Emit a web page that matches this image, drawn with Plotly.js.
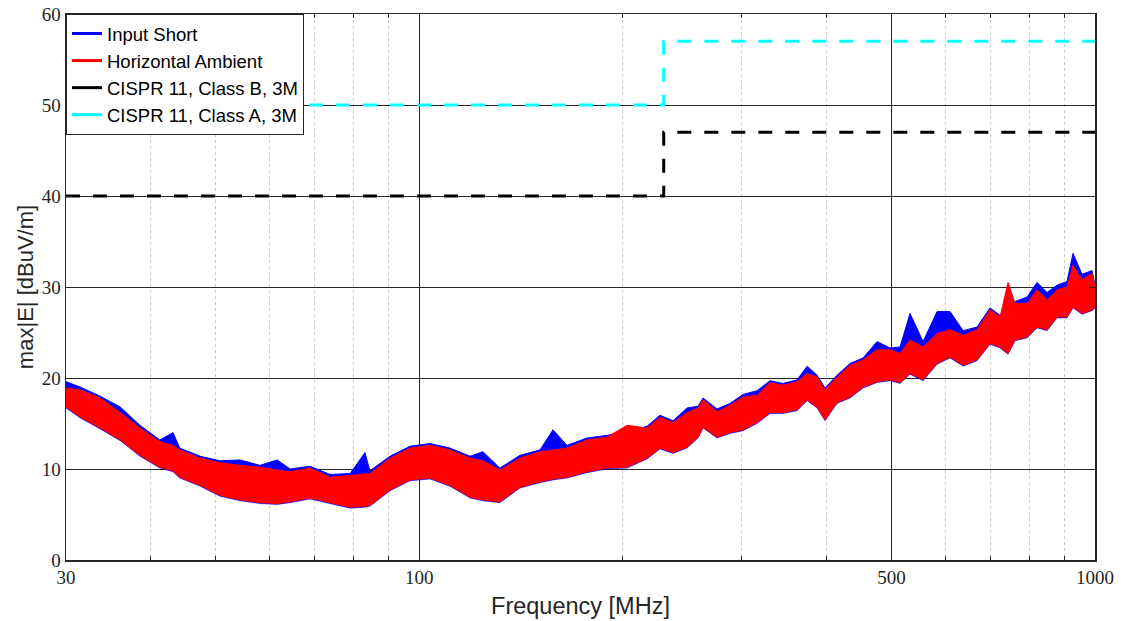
<!DOCTYPE html>
<html>
<head>
<meta charset="utf-8">
<script src="https://cdn.plot.ly/plotly-3.0.1.min.js"></script>
<style>html,body{margin:0;padding:0;background:#fff;}#chart{width:1127px;height:621px;}</style>
</head>
<body>
<div id="chart"></div>
<script>
// Frequencies (MHz) at which the envelopes were read
const freq = [30,31.5,33.7,36.1,38.6,41.3,43.2,44.2,47.4,50.7,54.3,58.1,61.6,64.4,68.9,73.8,79.0,83.1,84.5,90.5,96.9,103.7,111.0,118.9,124.2,131.6,140.9,150.9,157.7,165.4,177.1,189.6,203.0,217.3,227.1,237.4,249.0,258.5,263.0,275.8,288.3,301.4,316.1,330.4,345.3,362.3,375.0,387.9,398.5,415.1,434.1,453.7,475.8,497.4,514.6,532.4,556.6,583.8,610.2,638.0,669.0,699.3,723.5,743.6,761.5,793.3,820.8,849.3,878.8,909.0,927.8,956.8,990,1000];
// Input Short: upper / lower envelope (dBuV/m)
const inputShortHi = [19.6,19.0,18.0,16.8,14.8,13.2,14.0,12.3,11.4,10.9,11.0,10.4,11.0,10.0,10.3,9.4,9.5,11.8,9.8,11.4,12.5,12.8,12.3,11.4,11.9,10.1,11.5,12.1,14.3,12.6,13.4,13.7,14.0,14.7,15.9,15.3,16.7,16.9,17.8,16.6,17.2,18.2,18.6,19.7,19.4,19.8,21.3,20.3,18.9,20.3,21.6,22.2,24.0,23.3,23.4,27.1,24.0,27.3,27.3,25.2,25.6,27.7,26.9,27.6,28.4,28.9,30.5,29.4,30.2,30.6,33.7,31.4,31.8,30.2];
const inputShortLo = [16.7,15.6,14.4,13.1,11.4,10.1,9.7,9.0,8.1,7.0,6.5,6.2,6.1,6.3,6.7,6.2,5.7,5.8,5.9,7.6,8.7,8.9,8.1,6.8,6.5,6.3,7.9,8.5,8.8,9.0,9.6,10.0,10.1,11.1,12.2,11.7,12.3,13.4,14.5,13.4,13.9,14.2,15.0,16.1,16.1,16.4,17.5,16.7,15.3,17.2,17.8,18.9,19.5,19.7,19.4,20.4,19.7,21.5,22.2,21.3,21.9,23.7,23.3,22.6,24.1,24.4,25.5,25.2,26.6,26.6,27.7,27.0,27.4,27.7];
// Horizontal Ambient: upper / lower envelope (dBuV/m)
const ambientHi = [18.9,18.7,17.8,16.2,14.5,13.0,12.6,12.1,11.2,10.7,10.4,10.2,9.9,9.7,10.1,9.1,9.3,9.4,9.5,11.2,12.3,12.6,12.1,11.2,10.9,9.9,11.2,11.9,12.1,12.3,13.2,13.5,14.8,14.5,15.7,15.1,16.2,16.7,17.6,16.3,17.0,17.9,18.1,19.5,19.2,19.6,20.5,20.1,18.7,20.1,21.4,22.0,23.1,23.1,22.7,24.2,23.4,24.9,25.3,24.7,25.3,27.5,26.7,30.5,28.2,28.2,29.7,28.6,29.7,30.0,32.4,30.8,31.5,30.0];
const ambientLo = [16.8,15.7,14.5,13.2,11.5,10.2,9.8,9.1,8.2,7.1,6.6,6.3,6.2,6.4,6.8,6.3,5.8,5.9,6.0,7.7,8.8,9.0,8.2,6.9,6.6,6.4,8.0,8.6,8.9,9.1,9.7,10.1,10.2,11.2,12.3,11.8,12.4,13.5,14.6,13.5,14.0,14.3,15.1,16.2,16.2,16.5,17.6,16.8,15.4,17.3,17.9,19.0,19.6,19.8,19.5,20.5,19.8,21.6,22.3,21.4,22.0,23.8,23.4,22.7,24.2,24.5,25.6,25.3,26.7,26.7,27.8,27.1,27.5,27.8];
// CISPR 11 limits (3 m)
const limitFreq = [30,230,230,1000];
const classB = [40,40,47,47];
const classA = [50,50,57,57];
// Axis ticks
const xTickVals = [30,100,500,1000];
const xTickText = ['30','100','500','1000'];
const xMinorVals = [40,50,60,70,80,90,200,300,400,600,700,800,900];
const yTickVals = [0,10,20,30,40,50,60];

const BLUE = '#0000ff', RED = '#ff0000', BLACK = '#000000', CYAN = '#00ffff';
const traces = [
  {x:[null], y:[null], mode:'lines', name:'Input Short', line:{color:BLUE, width:3}},
  {x:[null], y:[null], mode:'lines', name:'Horizontal Ambient', line:{color:RED, width:3}},
  {x:[null], y:[null], mode:'lines', name:'CISPR 11, Class B, 3M', line:{color:BLACK, width:3}},
  {x:[null], y:[null], mode:'lines', name:'CISPR 11, Class A, 3M', line:{color:CYAN, width:3}},
  {x:limitFreq, y:classB, mode:'lines', showlegend:false, line:{color:BLACK, width:3, dash:'14px,13px'}},
  {x:limitFreq, y:classA, mode:'lines', showlegend:false, line:{color:CYAN, width:3, dash:'14px,13px'}},
  {x:freq, y:inputShortHi, mode:'lines', showlegend:false, hoverinfo:'skip', line:{color:BLUE, width:1}},
  {x:freq, y:inputShortLo, mode:'lines', showlegend:false, hoverinfo:'skip', fill:'tonexty', fillcolor:BLUE, line:{color:BLUE, width:0.5}},
  {x:freq, y:ambientHi, mode:'lines', showlegend:false, hoverinfo:'skip', line:{color:RED, width:1}},
  {x:freq, y:ambientLo, mode:'lines', showlegend:false, hoverinfo:'skip', fill:'tonexty', fillcolor:RED, line:{color:RED, width:1}}
];

const tickFont = {family:'Liberation Serif, Times New Roman, serif', size:19, color:'#262626'};
const sans = 'Liberation Sans, Arial, sans-serif';

const layout = {
  width:1127, height:621,
  margin:{l:66, r:32, t:14, b:61},
  paper_bgcolor:'#ffffff', plot_bgcolor:'#ffffff',
  showlegend:true,
  legend:{x:0, y:1, xanchor:'left', yanchor:'top', bgcolor:'#ffffff', bordercolor:'#262626', borderwidth:1,
          traceorder:'normal', font:{family:sans, size:18.5, color:'#000'}, tracegroupgap:0, itemwidth:30},
  xaxis:{
    type:'log', range:[Math.log10(30), 3],
    tickmode:'array', tickvals:xTickVals, ticktext:xTickText,
    ticks:'inside', ticklen:6, tickcolor:'#262626', tickwidth:1,
    showgrid:true, gridcolor:'#262626', gridwidth:1,
    showline:true, linecolor:'#262626', linewidth:1.5, mirror:'ticks',
    zeroline:false, tickfont:tickFont,
    minor:{tickvals:xMinorVals, ticks:'inside', ticklen:4, tickcolor:'#262626', showgrid:true, gridcolor:'#cccccc', griddash:'dot', gridwidth:1},
    title:{text:'Frequency [MHz]', font:{family:sans, size:23.5, color:'#262626'}, standoff:10}
  },
  yaxis:{
    range:[0,60], tickmode:'array', tickvals:yTickVals,
    ticks:'inside', ticklen:6, tickcolor:'#262626', tickwidth:1,
    showgrid:true, gridcolor:'#262626', gridwidth:1,
    showline:true, linecolor:'#262626', linewidth:1.5, mirror:'ticks',
    zeroline:false, tickfont:tickFont,
    title:{text:'max|E| [dBuV/m]', font:{family:sans, size:22, color:'#262626'}, standoff:2}
  }
};

Plotly.newPlot('chart', traces, layout, {staticPlot:true, displayModeBar:false});
</script>
</body>
</html>
